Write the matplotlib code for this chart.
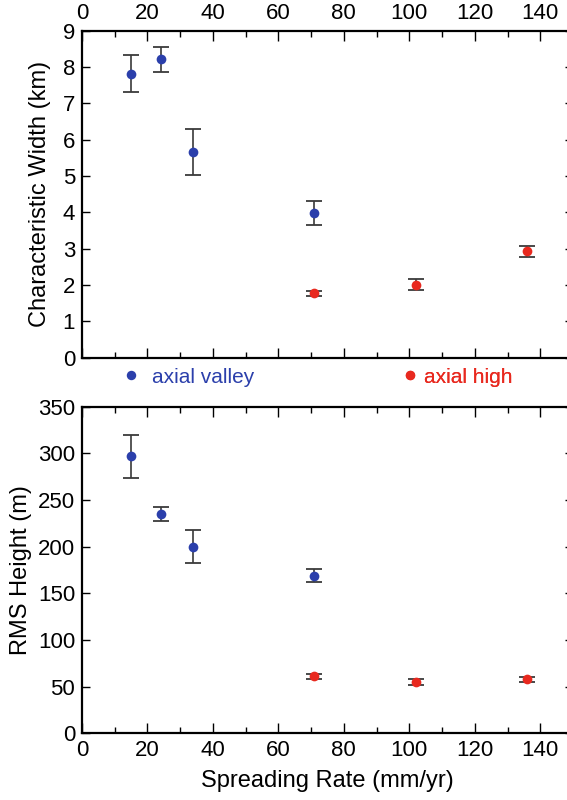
import matplotlib
matplotlib.use("Agg")
import matplotlib.pyplot as plt
from matplotlib.lines import Line2D
from matplotlib.ticker import MultipleLocator

plt.rcParams['font.family'] = ['Liberation Sans', 'DejaVu Sans']

# ---- data ----
valley_rate = [15, 24, 34, 71]
valley_width = [7.82, 8.21, 5.66, 3.97]
valley_width_err = [0.50, 0.34, 0.63, 0.33]
valley_rms = [297, 235, 200, 169]
valley_rms_err = [23, 8, 18, 7]

high_rate = [71, 102, 136]
high_width = [1.77, 2.00, 2.92]
high_width_err = [0.07, 0.15, 0.16]
high_rms = [61, 55, 58]
high_rms_err = [2.8, 2.8, 2.8]

labels = ["axial valley", "axial high"]
xlabel = "Spreading Rate (mm/yr)"
ylabel_top = "Characteristic Width (km)"
ylabel_bot = "RMS Height (m)"

BLUE = "#2b3fab"
RED = "#e8291f"
ECOL = "#3a3a3a"

fig = plt.figure(figsize=(5.67, 8.0), dpi=100)
W, H = 567.0, 800.0
left = 82 / W
width = (573 - 82) / W
ax1 = fig.add_axes([left, 1 - 357.5 / H, width, 326.8 / H])
ax2 = fig.add_axes([left, 1 - 733.4 / H, width, 326.8 / H])

ekw = dict(fmt='none', ecolor=ECOL, elinewidth=1.2, capsize=6, capthick=1.3, zorder=2)
mkw = dict(linestyle='none', marker='o', markersize=7, markeredgewidth=0, zorder=3)

ax1.errorbar(valley_rate, valley_width, yerr=valley_width_err, **ekw)
ax1.errorbar(high_rate, high_width, yerr=high_width_err, **ekw)
ax1.plot(valley_rate, valley_width, color=BLUE, **mkw)
ax1.plot(high_rate, high_width, color=RED, **mkw)

ax2.errorbar(valley_rate, valley_rms, yerr=valley_rms_err, **ekw)
ax2.errorbar(high_rate, high_rms, yerr=high_rms_err, **ekw)
ax2.plot(valley_rate, valley_rms, color=BLUE, **mkw)
ax2.plot(high_rate, high_rms, color=RED, **mkw)

ax1.set_xlim(0, 150)
ax1.set_ylim(0, 9)
ax2.set_xlim(0, 150)
ax2.set_ylim(0, 350)

for ax in (ax1, ax2):
    ax.xaxis.set_major_locator(MultipleLocator(20))
    ax.xaxis.set_minor_locator(MultipleLocator(10))
    for s in ax.spines.values():
        s.set_linewidth(1.6)
    ax.tick_params(which='major', axis='x', direction='in', length=7, width=1.0,
                   top=True, bottom=True, labelsize=16, pad=5)
    ax.tick_params(which='minor', axis='x', direction='in', length=4, width=1.0,
                   top=True, bottom=True)
    ax.tick_params(axis='y', direction='in', length=5.5, width=1.0,
                   left=True, right=True, labelsize=16, pad=5)

ax1.yaxis.set_major_locator(MultipleLocator(1))
ax2.yaxis.set_major_locator(MultipleLocator(50))

ax1.tick_params(axis='x', labeltop=True, labelbottom=False)
ax2.tick_params(axis='x', labeltop=False, labelbottom=True)

ax1.set_ylabel(ylabel_top, fontsize=17, labelpad=8)
ax2.set_ylabel(ylabel_bot, fontsize=17, labelpad=4)
ax2.set_xlabel(xlabel, fontsize=17, labelpad=6)

# legend between the panels
fs = 15
for lab, col, x0, pad in ((labels[0], BLUE, 0.0786, 0.51), (labels[1], RED, 0.6468, 0.15)):
    h = Line2D([], [], linestyle='none', marker='o', color=col,
               markersize=6.8, markeredgewidth=0)
    leg = ax1.legend([h], [lab], loc='center left', bbox_to_anchor=(x0, -0.0597),
                     frameon=False, fontsize=fs, handlelength=1.0,
                     handletextpad=pad, borderpad=0, borderaxespad=0)
    for t in leg.get_texts():
        t.set_color(col)
    ax1.add_artist(leg)

fig.savefig("out.png", dpi=100)
